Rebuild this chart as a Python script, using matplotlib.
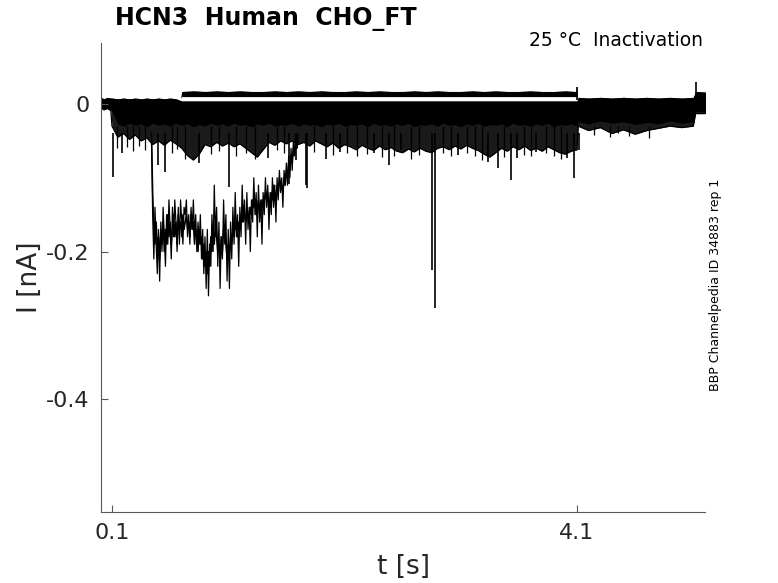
import numpy as np
import matplotlib
matplotlib.use('Agg')
import matplotlib.pyplot as plt

# ---- values (time in s, current in nA) ----

# envelope of the overlapping sweeps
trace_t = [0.005, 0.03, 0.06, 0.09,
           0.10, 0.15, 0.20, 0.25, 0.30, 0.35, 0.40, 0.45, 0.50, 0.55, 0.60, 0.65,
           0.70, 0.75, 0.80, 0.85, 0.90, 0.95, 1.00, 1.05, 1.10, 1.15, 1.20, 1.25,
           1.30, 1.35, 1.40, 1.45, 1.50, 1.55, 1.60, 1.65, 1.70, 1.75, 1.80, 1.85,
           1.90, 1.95, 2.00, 2.05, 2.10, 2.15, 2.20, 2.25, 2.30, 2.35, 2.40, 2.45,
           2.50, 2.55, 2.60, 2.65, 2.70, 2.75, 2.80, 2.85, 2.90, 2.95, 3.00, 3.05,
           3.10, 3.15, 3.20, 3.25, 3.30, 3.35, 3.40, 3.45, 3.50, 3.55, 3.60, 3.65,
           3.70, 3.75, 3.80, 3.85, 3.90, 3.95, 4.00, 4.05, 4.10,
           4.11, 4.20, 4.30, 4.40, 4.50, 4.60, 4.70, 4.80, 4.90, 5.00, 5.10,
           5.12, 5.21]
band_top = [0.009, 0.007, 0.009, 0.008,
            0.008, 0.007, 0.008, 0.007, 0.008, 0.007, 0.008, 0.007, 0.008, 0.007, 0.008, 0.007,
            0.004, 0.004, 0.004, 0.004, 0.004, 0.004, 0.004, 0.004, 0.004, 0.004, 0.004, 0.004,
            0.004, 0.004, 0.004, 0.004, 0.004, 0.004, 0.004, 0.004, 0.004, 0.004, 0.004, 0.004,
            0.004, 0.004, 0.004, 0.004, 0.004, 0.004, 0.004, 0.004, 0.004, 0.004, 0.004, 0.004,
            0.004, 0.004, 0.004, 0.004, 0.004, 0.004, 0.004, 0.004, 0.004, 0.004, 0.004, 0.004,
            0.004, 0.004, 0.004, 0.004, 0.004, 0.004, 0.004, 0.004, 0.004, 0.004, 0.004, 0.004,
            0.004, 0.004, 0.004, 0.004, 0.004, 0.004, 0.004, 0.004, 0.004,
            0.009, 0.008, 0.009, 0.008, 0.009, 0.008, 0.009, 0.008, 0.009, 0.008, 0.009,
            0.017, 0.016]
band_core = [-0.004, -0.007, -0.005, -0.008,
             -0.010, -0.027, -0.030, -0.026, -0.029, -0.027, -0.031, -0.026, -0.029, -0.027, -0.030, -0.026,
             -0.029, -0.027, -0.031, -0.028, -0.030, -0.026, -0.029, -0.027, -0.030, -0.026, -0.029, -0.028,
             -0.031, -0.027, -0.029, -0.026, -0.030, -0.028, -0.029, -0.026, -0.030, -0.027, -0.029, -0.028,
             -0.031, -0.027, -0.029, -0.026, -0.030, -0.028, -0.029, -0.027, -0.031, -0.026, -0.029, -0.028,
             -0.030, -0.027, -0.029, -0.026, -0.031, -0.028, -0.029, -0.027, -0.030, -0.026, -0.029, -0.028,
             -0.031, -0.027, -0.029, -0.026, -0.030, -0.028, -0.029, -0.027, -0.031, -0.026, -0.029, -0.028,
             -0.030, -0.027, -0.029, -0.026, -0.031, -0.028, -0.029, -0.027, -0.030,
             -0.024, -0.027, -0.023, -0.026, -0.024, -0.028, -0.025, -0.027, -0.023, -0.026, -0.024,
             -0.010, -0.011]
mid_low = [-0.005, -0.008, -0.006, -0.009,
           -0.030, -0.045, -0.040, -0.048, -0.042, -0.050, -0.046, -0.055, -0.050, -0.056, -0.049, -0.054,
           -0.060, -0.070, -0.076, -0.068, -0.055, -0.058, -0.052, -0.057, -0.053, -0.058, -0.054, -0.060,
           -0.066, -0.072, -0.062, -0.052, -0.056, -0.050, -0.054, -0.050, -0.055, -0.052, -0.057, -0.050,
           -0.054, -0.058, -0.053, -0.060, -0.055, -0.058, -0.062, -0.056, -0.060, -0.063, -0.057, -0.062,
           -0.059, -0.064, -0.066, -0.061, -0.065, -0.060, -0.064, -0.066, -0.060, -0.058, -0.062, -0.057,
           -0.061, -0.056, -0.060, -0.063, -0.068, -0.072, -0.066, -0.060, -0.064, -0.058, -0.062, -0.057,
           -0.063, -0.060, -0.064, -0.058, -0.062, -0.066, -0.068, -0.064, -0.062,
           -0.030, -0.036, -0.032, -0.040, -0.035, -0.041, -0.036, -0.033, -0.030, -0.032, -0.030,
           -0.013, -0.013]

# sweep that sits slightly above zero during the prepulse
upper_t = [0.69, 0.70, 0.80, 0.90, 1.00, 1.10, 1.20, 1.30, 1.40, 1.50, 1.60, 1.70, 1.80,
           1.90, 2.00, 2.10, 2.20, 2.30, 2.40, 2.50, 2.60, 2.70, 2.80, 2.90, 3.00,
           3.10, 3.20, 3.30, 3.40, 3.50, 3.60, 3.70, 3.80, 3.90, 4.00, 4.09, 4.10, 4.105]
upper_top = [0.008, 0.017, 0.018, 0.017, 0.018, 0.017, 0.018, 0.017, 0.017, 0.018, 0.017, 0.018, 0.017,
             0.018, 0.017, 0.017, 0.018, 0.017, 0.018, 0.017, 0.017, 0.018, 0.017, 0.018, 0.017,
             0.017, 0.018, 0.017, 0.018, 0.017, 0.017, 0.018, 0.017, 0.017, 0.018, 0.017, 0.024, 0.008]
upper_bot = [0.008, 0.010, 0.010, 0.010, 0.010, 0.010, 0.010, 0.010, 0.010, 0.010, 0.010, 0.010, 0.010,
             0.010, 0.010, 0.010, 0.010, 0.010, 0.010, 0.010, 0.010, 0.010, 0.010, 0.010, 0.010,
             0.010, 0.010, 0.010, 0.010, 0.010, 0.010, 0.010, 0.010, 0.010, 0.010, 0.010, 0.010, 0.008]

# the sweep with the large inward current (two passes of its noise)
big_t = [0.44, 0.45, 0.46, 0.47, 0.48, 0.49, 0.50, 0.51, 0.52, 0.53, 0.54, 0.55, 0.56, 0.57, 0.58, 0.59,
         0.60, 0.61, 0.62, 0.63, 0.64, 0.65, 0.66, 0.67, 0.68, 0.69, 0.70, 0.71, 0.72, 0.73, 0.74, 0.75,
         0.76, 0.77, 0.78, 0.79, 0.80, 0.81, 0.82, 0.83, 0.84, 0.85, 0.86, 0.87, 0.88, 0.89, 0.90, 0.91,
         0.92, 0.93, 0.94, 0.95, 0.96, 0.97, 0.98, 0.99, 1.00, 1.01, 1.02, 1.03, 1.04, 1.05, 1.06, 1.07,
         1.08, 1.09, 1.10, 1.11, 1.12, 1.13, 1.14, 1.15, 1.16, 1.17, 1.18, 1.19, 1.20, 1.21, 1.22, 1.23,
         1.24, 1.25, 1.26, 1.27, 1.28, 1.29, 1.30, 1.31, 1.32, 1.33, 1.34, 1.35, 1.36, 1.37, 1.38, 1.39,
         1.40, 1.41, 1.42, 1.43, 1.44, 1.45, 1.46, 1.47, 1.48, 1.49, 1.50, 1.51, 1.52, 1.53, 1.54, 1.55,
         1.56, 1.57, 1.58, 1.59, 1.60, 1.61, 1.62, 1.63, 1.64, 1.65, 1.66, 1.67, 1.68, 1.69, 1.70]
big_i = [-0.05, -0.15, -0.21, -0.14, -0.19, -0.23, -0.17, -0.24, -0.16, -0.20, -0.14, -0.18, -0.22, -0.15, -0.19, -0.13,
         -0.17, -0.21, -0.14, -0.18, -0.13, -0.16, -0.20, -0.14, -0.19, -0.13, -0.16, -0.19, -0.14, -0.15, -0.13, -0.18,
         -0.15, -0.19, -0.14, -0.17, -0.13, -0.18, -0.15, -0.20, -0.16, -0.19, -0.15, -0.21, -0.17, -0.23, -0.18, -0.25,
         -0.17, -0.26, -0.19, -0.22, -0.15, -0.20, -0.11, -0.18, -0.14, -0.22, -0.16, -0.25, -0.18, -0.21, -0.13, -0.19,
         -0.15, -0.24, -0.17, -0.25, -0.16, -0.21, -0.14, -0.19, -0.12, -0.18, -0.15, -0.22, -0.14, -0.18, -0.11, -0.16,
         -0.13, -0.19, -0.12, -0.17, -0.14, -0.20, -0.13, -0.16, -0.10, -0.15, -0.12, -0.18, -0.11, -0.16, -0.13, -0.19,
         -0.12, -0.15, -0.10, -0.14, -0.11, -0.17, -0.12, -0.15, -0.10, -0.14, -0.11, -0.16, -0.10, -0.13, -0.09, -0.12,
         -0.10, -0.14, -0.09, -0.11, -0.08, -0.11, -0.07, -0.10, -0.06, -0.09, -0.05, -0.07, -0.04, -0.06, -0.04]
big_i2 = [-0.04, -0.12, -0.17, -0.19, -0.16, -0.20, -0.18, -0.21, -0.17, -0.19, -0.16, -0.20, -0.17, -0.19, -0.15, -0.18,
          -0.16, -0.19, -0.17, -0.15, -0.18, -0.16, -0.19, -0.15, -0.17, -0.16, -0.18, -0.15, -0.17, -0.16, -0.15, -0.17,
          -0.16, -0.18, -0.15, -0.17, -0.16, -0.19, -0.17, -0.18, -0.20, -0.17, -0.19, -0.18, -0.21, -0.19, -0.22, -0.20,
          -0.23, -0.20, -0.22, -0.18, -0.20, -0.17, -0.19, -0.16, -0.18, -0.20, -0.19, -0.21, -0.18, -0.20, -0.17, -0.18,
          -0.19, -0.21, -0.19, -0.20, -0.18, -0.19, -0.17, -0.18, -0.16, -0.17, -0.18, -0.16, -0.17, -0.15, -0.16, -0.14,
          -0.15, -0.16, -0.14, -0.15, -0.16, -0.14, -0.15, -0.13, -0.14, -0.13, -0.15, -0.14, -0.13, -0.14, -0.15, -0.13,
          -0.14, -0.13, -0.12, -0.13, -0.12, -0.14, -0.13, -0.12, -0.13, -0.11, -0.12, -0.13, -0.11, -0.12, -0.10, -0.11,
          -0.11, -0.12, -0.10, -0.11, -0.09, -0.10, -0.08, -0.09, -0.07, -0.08, -0.06, -0.07, -0.05, -0.06, -0.05]

# brief downward spikes (time, peak current)
spike_t = [0.11, 0.19, 0.50, 0.56, 0.85, 1.11, 1.44, 1.62, 1.68, 1.765, 1.78, 1.94, 2.06, 2.35,
           2.48, 2.59, 2.85, 2.88, 3.08, 3.33, 3.42, 3.53, 3.58, 3.75, 4.01, 4.07, 4.12]
spike_i = [-0.099, -0.067, -0.083, -0.092, -0.080, -0.113, -0.073, -0.108, -0.076, -0.110, -0.114, -0.075, -0.065, -0.067,
           -0.083, -0.063, -0.225, -0.276, -0.069, -0.079, -0.087, -0.103, -0.073, -0.065, -0.073, -0.100, -0.063]

# shorter spikes along the lower edge of the noisy sweeps
small_t = [0.14, 0.23, 0.28, 0.33, 0.38, 0.62, 0.66, 0.73, 0.95, 1.02, 1.17, 1.25, 1.33,
           1.52, 1.58, 1.84, 2.00, 2.12, 2.21, 2.29, 2.42, 2.53, 2.67, 2.74, 2.95, 3.02,
           3.15, 3.22, 3.28, 3.47, 3.64, 3.70, 3.83, 3.90, 3.96, 4.25, 4.38, 4.45, 4.55, 4.72]
small_i = [-0.060, -0.058, -0.064, -0.057, -0.062, -0.066, -0.061, -0.074, -0.068, -0.064, -0.070, -0.066, -0.075,
           -0.063, -0.067, -0.065, -0.069, -0.066, -0.071, -0.068, -0.072, -0.070, -0.074, -0.069, -0.066, -0.071,
           -0.067, -0.070, -0.076, -0.072, -0.069, -0.071, -0.066, -0.070, -0.075, -0.042, -0.045, -0.040, -0.044, -0.046]

# brief upward spikes
up_t = [4.10, 5.12]
up_i = [0.023, 0.030]

xticks = [0.1, 4.1]
xtick_labels = ['0.1', '4.1']
yticks = [0, -0.2, -0.4]
ytick_labels = ['0', '-0.2', '-0.4']

fig = plt.figure(figsize=(7.78, 5.83), dpi=100)
ax = fig.add_axes([0.1298, 0.1218, 0.7764, 0.8045])

ax.fill_between(trace_t, mid_low, band_top, color='0.1', lw=0)
ax.plot(trace_t, mid_low, color='k', lw=0.9)
ax.fill_between(trace_t, band_core, band_top, color='k', lw=0)
ax.fill_between(upper_t, upper_bot, upper_top, color='k', lw=0)
ax.vlines(spike_t, spike_i, -0.04, color='k', lw=1.2)
ax.vlines(small_t, small_i, -0.03, color='k', lw=0.9)
ax.vlines(up_t, 0.005, up_i, color='k', lw=1.2)
ax.plot(big_t, big_i2, color='k', lw=1.1)
ax.plot(big_t, big_i, color='k', lw=0.9)

ax.set_xlim(0.0054, 5.201)
ax.set_ylim(-0.553, 0.0827)
ax.set_xticks(xticks)
ax.set_xticklabels(xtick_labels)
ax.set_yticks(yticks)
ax.set_yticklabels(ytick_labels)

for side in ['top', 'right']:
    ax.spines[side].set_visible(False)
for side in ['left', 'bottom']:
    ax.spines[side].set_color('0.35')
    ax.spines[side].set_linewidth(0.8)
ax.tick_params(direction='in', length=5, width=0.8, color='0.35',
               labelsize=16, labelcolor='#262626', pad=8)

fig.text(0.148, 0.968, 'HCN3  Human  CHO_FT', fontsize=17, fontweight='bold',
         ha='left', va='center')
fig.text(0.9036, 0.930, '25 °C  Inactivation', fontsize=13.5, ha='right', va='center')
fig.text(0.920, 0.511, 'BBP Channelpedia ID 34883 rep 1', fontsize=9,
         rotation=90, ha='center', va='center')
fig.text(0.0386, 0.525, 'I [nA]', fontsize=19, rotation=90, ha='center', va='center',
         color='#262626')
fig.text(0.518, 0.0275, 't [s]', fontsize=19, ha='center', va='center', color='#262626')

fig.savefig('out.png', dpi=100)
